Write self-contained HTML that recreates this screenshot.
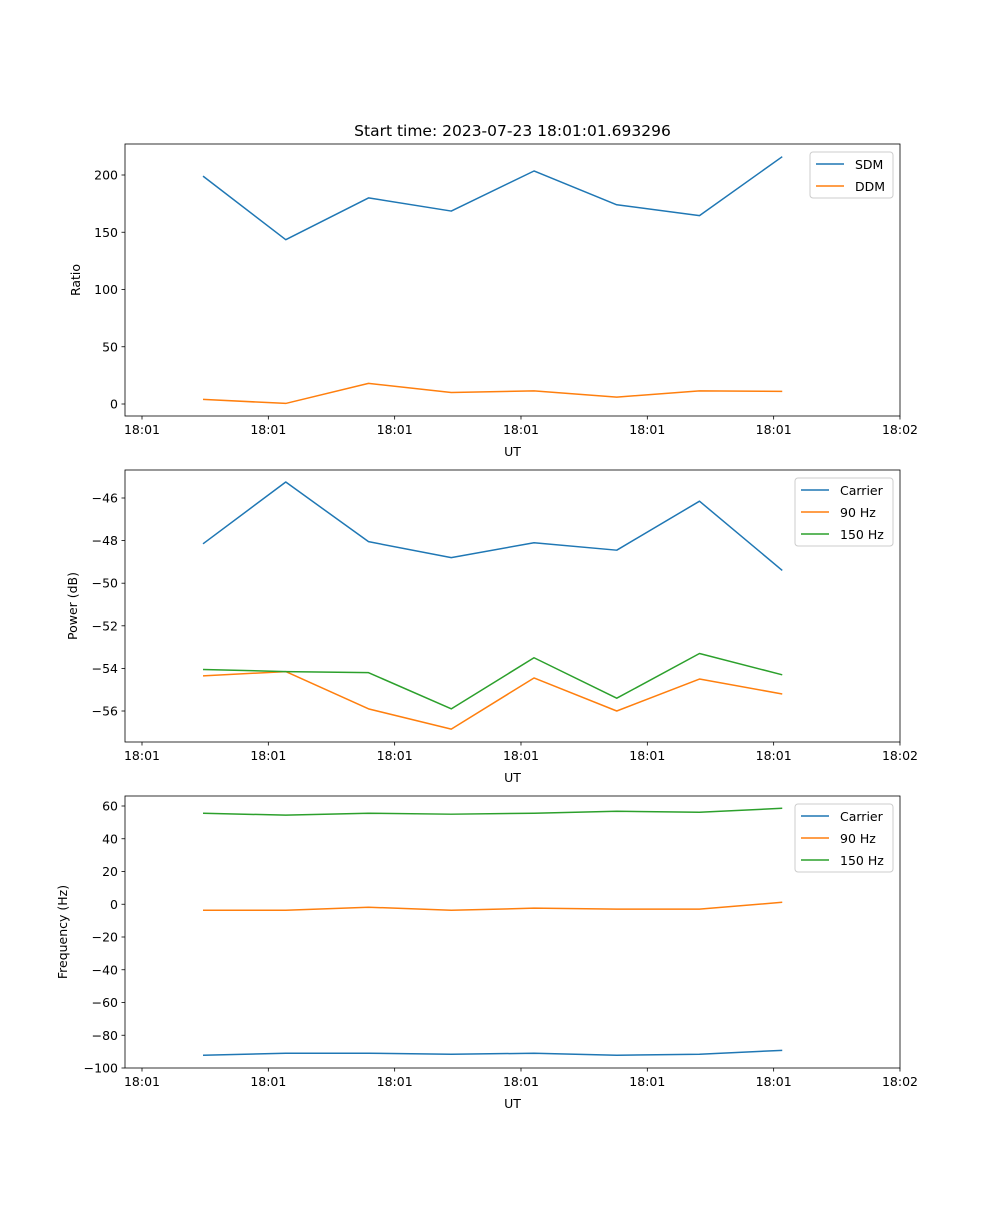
<!DOCTYPE html>
<html><head><meta charset="utf-8"><style>
body{margin:0;background:#fff}
svg{font-family:"DejaVu Sans","Liberation Sans",sans-serif}
</style></head><body>
<svg id="fig" width="1000" height="1200"></svg>
<script>
const times=[4.83,11.38,17.93,24.48,31.03,37.58,44.13,50.68];
const xTickVals=[0,10,20,30,40,50,60];
const xTickLabels=["18:01","18:01","18:01","18:01","18:01","18:01","18:02"];
const sdm=[199,143.5,180,168.5,203.5,174,164.5,216];
const ddm=[4,0.5,18,10,11.5,6,11.5,11];
const pCarrier=[-48.15,-45.25,-48.05,-48.8,-48.1,-48.45,-46.15,-49.4];
const p90=[-54.35,-54.15,-55.9,-56.85,-54.45,-56.0,-54.5,-55.2];
const p150=[-54.05,-54.15,-54.2,-55.9,-53.5,-55.4,-53.3,-54.3];
const fCarrier=[-92.2,-91,-91,-91.6,-91,-92.2,-91.6,-89.2];
const f90=[-3.7,-3.7,-1.8,-3.7,-2.4,-3,-3,1.2];
const f150=[55.6,54.4,55.6,55,55.6,56.8,56.2,58.6];
const ticks1=[0,50,100,150,200];
const ticks2=[-56,-54,-52,-50,-48,-46];
const ticks3=[-100,-80,-60,-40,-20,0,20,40,60];

const NS="http://www.w3.org/2000/svg";
const svg=document.getElementById('fig');
function mk(tag,attrs,parent,text){const e=document.createElementNS(NS,tag);for(const k in attrs)e.setAttribute(k,attrs[k]);if(text!==undefined)e.textContent=text;(parent||svg).appendChild(e);return e;}
const L=125,R=900;
const FS=12.5;
const xs=t=>142+t*12.633;
const C={blue:"#1f77b4",orange:"#ff7f0e",green:"#2ca02c"};

function panel(name,top,bottom,v0,y0px,v1,y1px,ticks,ylabel,series,legend){
  const ys=v=>y0px+(v-v0)*(y1px-y0px)/(v1-v0);
  const g=mk('g',{});
  
  
  xTickVals.forEach((t,i)=>{const x=xs(t);
    const tk=mk('line',{x1:x,x2:x,y1:bottom,y2:bottom+3.5,stroke:'#000','stroke-width':0.8},g);
    
    const tl=mk('text',{x:x,y:bottom+18,'font-size':FS,'text-anchor':'middle'},g,xTickLabels[i]);
    });
  ticks.forEach(v=>{const y=ys(v);
    const tk=mk('line',{x1:L-3.5,x2:L,y1:y,y2:y,stroke:'#000','stroke-width':0.8},g);
    
    const tl=mk('text',{x:L-7,y:y+4.5,'font-size':FS,'text-anchor':'end'},g,v<0?'\u2212'+Math.abs(v):String(v));
    });
  const xl=mk('text',{x:(L+R)/2,y:bottom+40,'font-size':FS,'text-anchor':'middle'},g,'UT');
  
  const yx=ylabel.x,ym=(top+bottom)/2;
  const yl=mk('text',{x:yx,y:ym,'font-size':FS,'text-anchor':'middle',transform:`rotate(-90 ${yx} ${ym})`},g,ylabel.t);
  
  series.forEach(s=>{
    const pl=mk('polyline',{points:s.v.map((v,i)=>xs(times[i])+','+ys(v)).join(' '),fill:'none',stroke:s.c,'stroke-width':1.5,'stroke-linejoin':'round'},g);
    });
  const fr=mk('rect',{x:L,y:top,width:R-L,height:bottom-top,fill:'none',stroke:'#000','stroke-width':0.8},g);
  
  const lg=mk('g',{},g);
  
  mk('rect',{x:legend.x,y:top+8,width:893-legend.x,height:series.length*22+2,fill:'#fff',stroke:'#ccc',rx:3},lg);
  series.forEach((s,i)=>{const y=top+20+i*22;
    mk('line',{x1:legend.x+6,x2:legend.x+34,y1:y,y2:y,stroke:s.c,'stroke-width':1.5},lg);
    const t=mk('text',{x:legend.x+45,y:y+5,'font-size':FS},lg,s.n);
    });
}
const title=mk('text',{x:512.5,y:136,'font-size':15.5,'text-anchor':'middle'},svg,'Start time: 2023-07-23 18:01:01.693296');

panel('ratio-panel',144,416,0,404,200,175,ticks1,{x:80,t:'Ratio'},
  [{n:'SDM',v:sdm,c:C.blue},{n:'DDM',v:ddm,c:C.orange}],{x:810});
panel('power-panel',470,742,-56,711,-46,498,ticks2,{x:77,t:'Power (dB)'},
  [{n:'Carrier',v:pCarrier,c:C.blue},{n:'90 Hz',v:p90,c:C.orange},{n:'150 Hz',v:p150,c:C.green}],{x:795});
panel('frequency-panel',796,1068,-100,1068,60,806,ticks3,{x:67,t:'Frequency (Hz)'},
  [{n:'Carrier',v:fCarrier,c:C.blue},{n:'90 Hz',v:f90,c:C.orange},{n:'150 Hz',v:f150,c:C.green}],{x:795});
</script>
</body></html>
